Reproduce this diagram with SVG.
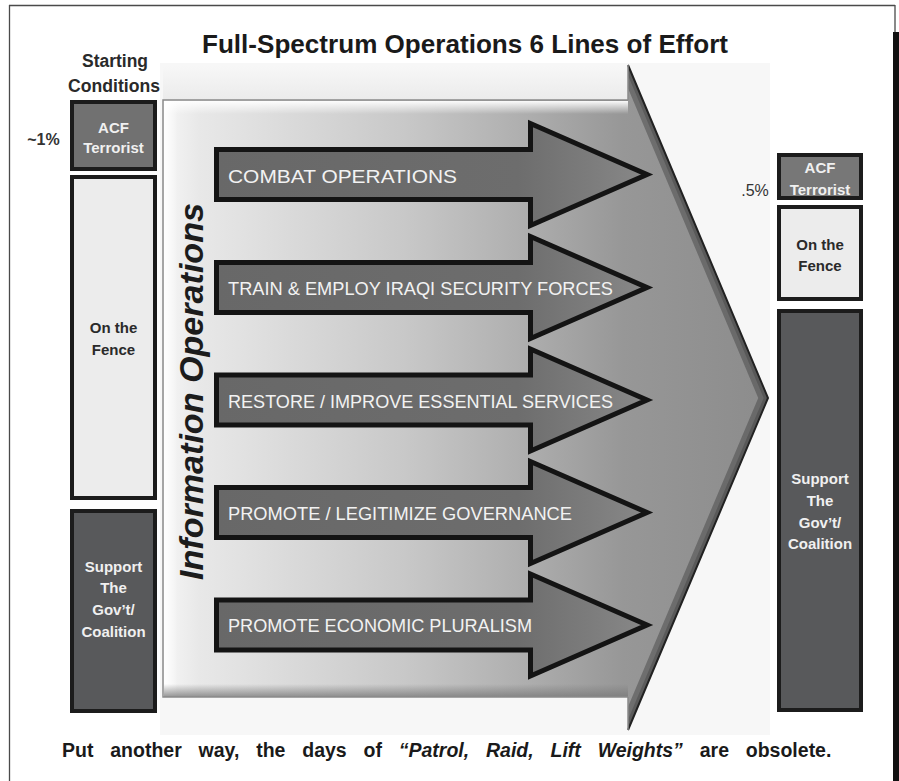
<svg xmlns="http://www.w3.org/2000/svg" width="899" height="781" viewBox="0 0 899 781">
<style>
.t{font-family:"Liberation Sans",Arial,sans-serif}
.box{stroke:#1c1c1c;stroke-width:4}
.dk{fill:#58595b}
.lt{fill:#ececec}
.md{fill:#717171}
.wt{fill:#f0f0f0;font-weight:bold;font-size:15px;text-anchor:middle}
.bt{fill:#2a2a2a;font-weight:bold;font-size:15px;text-anchor:middle}
.arr{fill:url(#arrG);stroke:#141414;stroke-width:5;stroke-miterlimit:10}
.al{fill:#f2f2f2;font-size:18px}
</style>
<defs>
<linearGradient id="bigG" gradientUnits="userSpaceOnUse" x1="163" y1="0" x2="768" y2="0">
<stop offset="0" stop-color="#f6f6f6"/>
<stop offset="0.06" stop-color="#e8e8e8"/>
<stop offset="0.4" stop-color="#c8c8c8"/>
<stop offset="0.6" stop-color="#aeaeae"/>
<stop offset="0.76" stop-color="#979797"/>
<stop offset="1" stop-color="#8c8c8c"/>
</linearGradient>
<linearGradient id="arrG" x1="0" y1="0" x2="1" y2="0">
<stop offset="0" stop-color="#686868"/>
<stop offset="0.7" stop-color="#6d6d6d"/>
<stop offset="1" stop-color="#888888"/>
</linearGradient>
<linearGradient id="bevT" x1="0" y1="0" x2="0" y2="1">
<stop offset="0" stop-color="#ffffff" stop-opacity="0.95"/>
<stop offset="1" stop-color="#ffffff" stop-opacity="0"/>
</linearGradient>
<linearGradient id="bevL" x1="0" y1="0" x2="1" y2="0">
<stop offset="0" stop-color="#ffffff" stop-opacity="0.95"/>
<stop offset="1" stop-color="#ffffff" stop-opacity="0"/>
</linearGradient>
<linearGradient id="bevB" x1="0" y1="1" x2="0" y2="0">
<stop offset="0" stop-color="#7a7a7a" stop-opacity="0.8"/>
<stop offset="1" stop-color="#7a7a7a" stop-opacity="0"/>
</linearGradient>
<linearGradient id="shadT" x1="0" y1="0" x2="0" y2="1">
<stop offset="0" stop-color="#f7f7f7"/>
<stop offset="1" stop-color="#ebebeb"/>
</linearGradient>
<clipPath id="bigClip">
<polygon points="163,100 628,100 628,65 768,398 628,730 628,697 163,697"/>
</clipPath>
</defs>

<rect width="899" height="781" fill="#ffffff"/>
<!-- frame -->
<g id="frame">
<line x1="9" y1="5.5" x2="895" y2="5.5" stroke="#4a4a4a" stroke-width="1.3"/>
<line x1="9.5" y1="5" x2="9.5" y2="781" stroke="#4a4a4a" stroke-width="1.3"/>
<line x1="895" y1="5" x2="895" y2="33" stroke="#4a4a4a" stroke-width="1.3"/>
<rect x="893" y="32" width="6" height="749" fill="#111"/>
</g>

<g id="title">
<text class="t" x="465" y="53" font-size="25.5" font-weight="bold" text-anchor="middle" fill="#1a1a1a" textLength="526" lengthAdjust="spacingAndGlyphs">Full-Spectrum Operations 6 Lines of Effort</text>
</g>

<g id="starting-conditions">
<text class="t" x="115" y="67" font-size="18" font-weight="bold" text-anchor="middle" fill="#2a2a2a" textLength="66" lengthAdjust="spacingAndGlyphs">Starting</text>
<text class="t" x="114" y="92" font-size="18" font-weight="bold" text-anchor="middle" fill="#2a2a2a" textLength="92" lengthAdjust="spacingAndGlyphs">Conditions</text>
</g>

<!-- background panel -->
<rect x="160" y="63" width="610" height="672" fill="#f7f7f7"/>
<rect x="163" y="66" width="465" height="34" fill="url(#shadT)"/>

<g id="big-arrow">
<polygon points="163,100 628,100 628,65 768,398 628,730 628,697 163,697" fill="url(#bigG)"/>
<g clip-path="url(#bigClip)">
<polyline points="628,65 768,398 628,730" fill="none" stroke="#3e3e3e" stroke-width="18" stroke-opacity="0.45"/>
<polyline points="628,65 768,398 628,730" fill="none" stroke="#3e3e3e" stroke-width="8" stroke-opacity="0.4"/>
<rect x="164" y="101" width="464" height="13" fill="url(#bevT)"/>
<rect x="164" y="101" width="14" height="595" fill="url(#bevL)"/>
<rect x="164" y="684" width="464" height="13" fill="url(#bevB)"/>
</g>
<polyline points="628,65 768,398 628,730" fill="none" stroke="#222" stroke-width="2"/>
<polyline points="628,100 163,100 163,697 628,697" fill="none" stroke="#8a8a8a" stroke-width="1.5"/>
<line x1="628" y1="65" x2="628" y2="100" stroke="#8a8a8a" stroke-width="1.5"/>
<line x1="628" y1="697" x2="628" y2="730" stroke="#8a8a8a" stroke-width="1.5"/>
</g>

<g id="info-ops">
<text class="t" transform="translate(203,391.5) rotate(-90)" x="0" y="0" font-size="33" font-weight="bold" font-style="italic" text-anchor="middle" fill="#1c1c1c" textLength="377" lengthAdjust="spacingAndGlyphs">Information Operations</text>
</g>

<g id="loe-combat">
<polygon class="arr" points="216.5,149.5 530.5,149.5 530.5,123.5 647,174.5 530.5,225.5 530.5,199.5 216.5,199.5"/>
<text class="t al" x="228" y="183" font-size="21" textLength="229" lengthAdjust="spacingAndGlyphs">COMBAT OPERATIONS</text>
</g>
<g id="loe-train">
<polygon class="arr" points="216.5,262.5 530.5,262.5 530.5,236.5 647,287.5 530.5,338.5 530.5,312.5 216.5,312.5"/>
<text class="t al" x="228" y="295" textLength="385" lengthAdjust="spacingAndGlyphs">TRAIN &amp; EMPLOY IRAQI SECURITY FORCES</text>
</g>
<g id="loe-restore">
<polygon class="arr" points="216.5,375 530.5,375 530.5,349 647,400 530.5,451 530.5,425 216.5,425"/>
<text class="t al" x="228" y="408" textLength="385" lengthAdjust="spacingAndGlyphs">RESTORE / IMPROVE ESSENTIAL SERVICES</text>
</g>
<g id="loe-governance">
<polygon class="arr" points="216.5,487.5 530.5,487.5 530.5,461.5 647,512.5 530.5,563.5 530.5,537.5 216.5,537.5"/>
<text class="t al" x="228" y="520" textLength="344" lengthAdjust="spacingAndGlyphs">PROMOTE / LEGITIMIZE GOVERNANCE</text>
</g>
<g id="loe-economic">
<polygon class="arr" points="216.5,600 530.5,600 530.5,574 647,625 530.5,676 530.5,650 216.5,650"/>
<text class="t al" x="228" y="632" textLength="304" lengthAdjust="spacingAndGlyphs">PROMOTE ECONOMIC PLURALISM</text>
</g>

<!-- left column -->
<g id="start-pct">
<text class="t" x="43.5" y="145" font-size="16" font-weight="bold" text-anchor="middle" fill="#333">~1%</text>
</g>
<g id="start-acf">
<rect class="box md" x="72" y="102" width="83" height="67"/>
<text class="t wt" x="113.5" y="133">ACF</text>
<text class="t wt" x="113.5" y="153">Terrorist</text>
</g>
<g id="start-fence">
<rect class="box lt" x="72" y="177" width="83" height="321"/>
<text class="t bt" x="113.5" y="333">On the</text>
<text class="t bt" x="113.5" y="355">Fence</text>
</g>
<g id="start-support">
<rect class="box dk" x="72" y="511" width="83" height="200"/>
<text class="t wt" x="113.5" y="572">Support</text>
<text class="t wt" x="113.5" y="593">The</text>
<text class="t wt" x="113.5" y="615">Gov’t/</text>
<text class="t wt" x="113.5" y="637">Coalition</text>
</g>

<!-- right column -->
<g id="end-pct">
<text class="t" x="755" y="196" font-size="16" text-anchor="middle" fill="#333">.5%</text>
</g>
<g id="end-acf">
<rect class="box md" x="779" y="155" width="82" height="43" style="fill:#777"/>
<text class="t wt" x="820" y="173" font-size="14.5">ACF</text>
<text class="t wt" x="820" y="195" font-size="14.5">Terrorist</text>
</g>
<g id="end-fence">
<rect class="box lt" x="779" y="207" width="82" height="92"/>
<text class="t bt" x="820" y="250">On the</text>
<text class="t bt" x="820" y="271">Fence</text>
</g>
<g id="end-support">
<rect class="box dk" x="779" y="311" width="82" height="399"/>
<text class="t wt" x="820" y="484">Support</text>
<text class="t wt" x="820" y="506">The</text>
<text class="t wt" x="820" y="528">Gov’t/</text>
<text class="t wt" x="820" y="549">Coalition</text>
</g>

<g id="caption">
<text class="t" x="62" y="757" font-size="19.5" font-weight="bold" fill="#1a1a1a" word-spacing="11.4">Put another way, the days of <tspan font-style="italic">“Patrol, Raid, Lift Weights”</tspan> are obsolete.</text>
</g>
</svg>
